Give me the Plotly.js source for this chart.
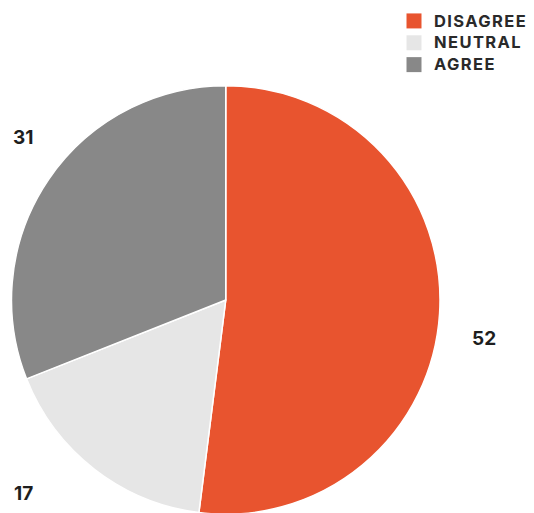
<!DOCTYPE html>
<html>
<head>
<meta charset="utf-8">
<script src="https://cdn.plot.ly/plotly-3.0.1.min.js"></script>
<style>
html, body { margin: 0; padding: 0; background: #ffffff; overflow: hidden; }
#wrap { width: 534px; height: 513px; overflow: hidden; }
.legendtext { letter-spacing: 1.4px; font-size: 16.5px !important; }
path.legendpie { d: path("M7.5,7.5H-7.5V-7.5H7.5Z"); stroke-width: 0 !important; }
</style>
</head>
<body>
<div id="wrap"><div id="chart"></div></div>
<script>
// Data
const categories = ["DISAGREE", "NEUTRAL", "AGREE"];
const values = [52, 17, 31];
const colors = ["#E8542F", "#E6E6E6", "#888888"];
// label anchor positions (pixels in the 534x513 picture) for the value labels
const labelPos = [[484, 338], [23, 493], [23, 137]];

const W = 534, H = 515;

const trace = {
  type: "pie",
  labels: categories,
  values: values,
  sort: false,
  direction: "clockwise",
  rotation: 0,
  textinfo: "none",
  hoverinfo: "label+value",
  marker: { colors: colors, line: { color: "#ffffff", width: 1.5 } },
  domain: { x: [11.5 / W, 440 / W], y: [0, 1 - 85 / H] },
  showlegend: true
};

const annotations = values.map((v, i) => ({
  text: String(v),
  x: labelPos[i][0] / W,
  y: 1 - labelPos[i][1] / H,
  xref: "paper", yref: "paper",
  xanchor: "center", yanchor: "middle",
  showarrow: false,
  font: { family: "Inter, 'DejaVu Sans', sans-serif", size: 19, weight: 700, color: "#1e1e1e" }
}));

const layout = {
  width: W, height: H,
  margin: { l: 0, r: 0, t: 0, b: 0 },
  paper_bgcolor: "#ffffff",
  showlegend: true,
  legend: {
    x: 394 / W, y: 1 - 5 / H, xanchor: "left", yanchor: "top",
    font: { family: "Inter, 'DejaVu Sans', sans-serif", size: 14.5, weight: 700, color: "#2a2a2a" },
    bgcolor: "rgba(0,0,0,0)",
    traceorder: "normal"
  },
  annotations: annotations
};

Plotly.newPlot("chart", [trace], layout, { displayModeBar: false, staticPlot: true });
</script>
</body>
</html>
